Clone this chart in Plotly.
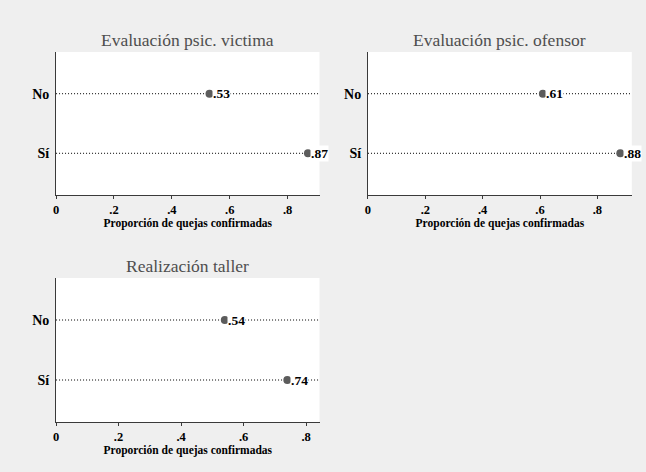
import plotly.graph_objects as go

# Proportion of confirmed complaints by intervention received
categories = ["No", "Sí"]
panel_titles = ["Evaluación psic. victima", "Evaluación psic. ofensor", "Realización taller"]
victima = [0.53, 0.87]
ofensor = [0.61, 0.88]
taller = [0.54, 0.74]
x_tick_vals = [0, 0.2, 0.4, 0.6, 0.8]
x_tick_text = ["0", ".2", ".4", ".6", ".8"]
x_axis_title = "Proporción de quejas confirmadas"

W, H = 646, 472
SERIF = "'Liberation Serif', 'Times New Roman', 'DejaVu Serif', serif"
BG = "#efefef"
AXIS = "#3a3a3a"
MARK = "#5c5c5c"

series = [victima, ofensor, taller]
# panel boxes in pixels: left, right, top, bottom, x-axis upper limit
boxes = [
    (53.3, 318.0, 52.0, 195.0, 0.91),
    (366.7, 631.7, 52.0, 195.0, 0.92),
    (53.3, 318.0, 278.0, 422.0, 0.843),
]

fig = go.Figure()
shapes = []
annotations = []

for i, (vals, title, box) in enumerate(zip(series, panel_titles, boxes)):
    n = "" if i == 0 else str(i + 1)
    xa, ya = "x" + n, "y" + n
    left, right, top, bottom, xmax = box

    fig.add_trace(go.Scatter(
        x=vals, y=categories, mode="markers",
        marker=dict(color=MARK, size=8, line=dict(width=0)),
        xaxis=xa, yaxis=ya, showlegend=False, hoverinfo="skip",
    ))

    for cat, v in zip(categories, vals):
        # dotted guide line across the plot region
        shapes.append(dict(
            type="line", xref=xa + " domain", yref=ya,
            x0=0, x1=1, y0=cat, y1=cat, layer="below",
            line=dict(color="black", width=1, dash="1px,2px"),
        ))
        # value label next to the marker
        annotations.append(dict(
            x=v, y=cat, xref=xa, yref=ya, text=f".{round(v * 100):02d}",
            showarrow=False, xanchor="left", yanchor="middle", xshift=2.5,
            bgcolor="white", borderpad=0,
            font=dict(family=SERIF, size=13.5, color="black", weight="bold"),
        ))

    annotations.append(dict(
        x=0.5, y=1, xref=xa + " domain", yref=ya + " domain",
        text=title, showarrow=False, xanchor="center", yanchor="middle", yshift=12,
        font=dict(family=SERIF, size=17.5, color="#4e4e4e"),
    ))

    fig.update_layout({
        ("xaxis" + n): dict(
            domain=[left / W, right / W], anchor=ya, range=[0, xmax],
            showgrid=False, zeroline=False, showline=True, linecolor=AXIS, linewidth=1,
            ticks="outside", ticklen=3, tickcolor=AXIS, tickwidth=1,
            tickvals=x_tick_vals, ticktext=x_tick_text,
            tickfont=dict(family=SERIF, size=12.5, color="black", weight="bold"),
            title=dict(text=x_axis_title, standoff=1,
                       font=dict(family=SERIF, size=11.5, color="black", weight="bold")),
            fixedrange=True,
        ),
        ("yaxis" + n): dict(
            domain=[1 - bottom / H, 1 - top / H], anchor=xa,
            type="category", categoryorder="array", categoryarray=categories,
            range=[1.7, -0.7],
            showgrid=False, zeroline=False, showline=True, linecolor=AXIS, linewidth=1,
            ticks="", ticklabelstandoff=3,
            tickfont=dict(family=SERIF, size=14, color="black", weight="bold"),
            fixedrange=True,
        ),
    })

fig.update_layout(
    width=W, height=H,
    margin=dict(l=0, r=0, t=0, b=0),
    paper_bgcolor=BG, plot_bgcolor="white",
    shapes=shapes, annotations=annotations,
)

fig.write_html("out.html")
